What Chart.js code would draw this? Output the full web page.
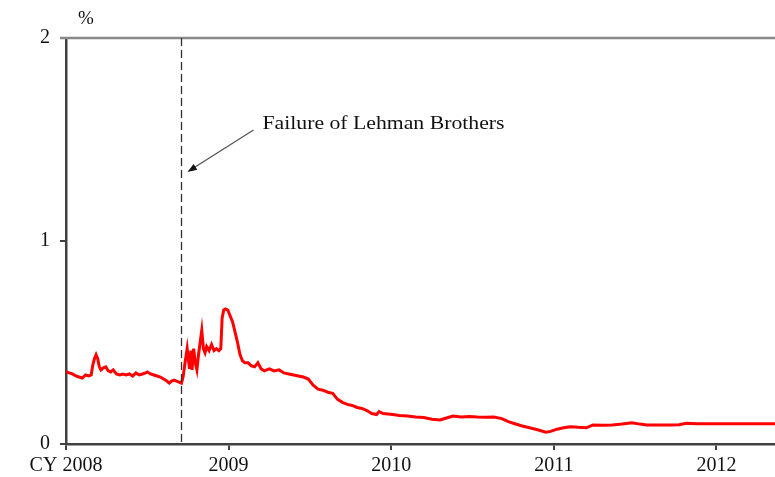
<!DOCTYPE html>
<html>
<head>
<meta charset="utf-8">
<script src="https://cdn.jsdelivr.net/npm/chart.js@4/dist/chart.umd.min.js"></script>
<style>
  html, body { margin: 0; padding: 0; background: #fff; }
  #wrap { width: 775px; height: 477px; }
</style>
</head>
<body>
<div id="wrap"><canvas id="myChart"></canvas></div>
<script>
// decimal years and interest rate (%)
var dates = [
  2008.00, 2008.02, 2008.04, 2008.06, 2008.08, 2008.10, 2008.12, 2008.14, 2008.155, 2008.165,
  2008.175, 2008.185, 2008.195, 2008.205, 2008.215, 2008.23, 2008.245, 2008.26, 2008.275, 2008.29,
  2008.31, 2008.33, 2008.35, 2008.37, 2008.39, 2008.41, 2008.43, 2008.45, 2008.47, 2008.49,
  2008.50, 2008.52, 2008.54, 2008.56, 2008.58, 2008.60, 2008.62, 2008.635, 2008.65, 2008.665,
  2008.68, 2008.695, 2008.71, 2008.72, 2008.732, 2008.745, 2008.752, 2008.76, 2008.768, 2008.775,
  2008.785, 2008.795, 2008.805, 2008.815, 2008.825, 2008.835, 2008.845, 2008.855, 2008.865, 2008.88,
  2008.895, 2008.91, 2008.925, 2008.94, 2008.952, 2008.96, 2008.97, 2008.98, 2008.995, 2009.01,
  2009.025, 2009.04, 2009.055, 2009.07, 2009.085, 2009.10, 2009.12, 2009.14, 2009.16, 2009.18,
  2009.20, 2009.22, 2009.25, 2009.28, 2009.31, 2009.34, 2009.37, 2009.40, 2009.43, 2009.46,
  2009.49, 2009.52, 2009.55, 2009.58, 2009.61, 2009.64, 2009.67, 2009.70, 2009.73, 2009.76,
  2009.79, 2009.82, 2009.85, 2009.88, 2009.91, 2009.925, 2009.95, 2009.98, 2010.01, 2010.05,
  2010.10, 2010.15, 2010.20, 2010.25, 2010.30, 2010.34, 2010.38, 2010.43, 2010.48, 2010.53,
  2010.58, 2010.63, 2010.68, 2010.72, 2010.76, 2010.80, 2010.85, 2010.90, 2010.95, 2010.98,
  2011.02, 2011.06, 2011.10, 2011.15, 2011.20, 2011.24, 2011.30, 2011.36, 2011.42, 2011.48,
  2011.53, 2011.57, 2011.65, 2011.72, 2011.77, 2011.815, 2011.88, 2011.95, 2012.05, 2012.15,
  2012.25, 2012.36
];
var rates = [
  0.356, 0.35, 0.345, 0.335, 0.33, 0.325, 0.34, 0.335, 0.34, 0.39,
  0.42, 0.44, 0.42, 0.38, 0.365, 0.375, 0.38, 0.36, 0.355, 0.365,
  0.345, 0.34, 0.345, 0.34, 0.345, 0.335, 0.35, 0.34, 0.345, 0.35,
  0.355, 0.345, 0.34, 0.335, 0.33, 0.32, 0.31, 0.30, 0.31, 0.315,
  0.31, 0.305, 0.30, 0.33, 0.40, 0.47, 0.42, 0.37, 0.46, 0.365,
  0.47, 0.40, 0.365, 0.44, 0.50, 0.56, 0.47, 0.45, 0.48, 0.46,
  0.49, 0.46, 0.47, 0.46, 0.47, 0.62, 0.66, 0.665, 0.66, 0.63,
  0.60, 0.55, 0.50, 0.44, 0.41, 0.40, 0.40, 0.385, 0.38, 0.40,
  0.37, 0.36, 0.37, 0.36, 0.365, 0.35, 0.345, 0.34, 0.335, 0.33,
  0.32, 0.29, 0.27, 0.265, 0.255, 0.25, 0.22, 0.205, 0.195, 0.19,
  0.18, 0.175, 0.165, 0.15, 0.145, 0.16, 0.15, 0.148, 0.145, 0.14,
  0.138, 0.133, 0.13, 0.122, 0.118, 0.128, 0.138, 0.133, 0.135, 0.133,
  0.132, 0.133, 0.125, 0.11, 0.10, 0.09, 0.08, 0.07, 0.058, 0.062,
  0.073, 0.08, 0.085, 0.082, 0.08, 0.094, 0.092, 0.094, 0.098, 0.105,
  0.098, 0.094, 0.093, 0.094, 0.095, 0.102, 0.1, 0.1, 0.1, 0.1,
  0.1, 0.1
];
var yearTicks = [2008, 2009, 2010, 2011, 2012];
var lehmanDate = 2008.71;
var lehmanLabel = 'Failure of Lehman Brothers';

var points = dates.map(function (d, i) { return { x: d, y: rates[i] }; });

var extras = {
  id: 'extras',
  afterDraw: function (chart) {
    var c = chart.ctx, a = chart.chartArea;
    var xs = chart.scales.x;
    c.save();
    // top border
    c.strokeStyle = '#888';
    c.lineWidth = 2.5;
    c.beginPath();
    c.moveTo(a.left - 6, a.top);
    c.lineTo(a.right, a.top);
    c.stroke();
    // Lehman dashed line
    var lx = Math.round(xs.getPixelForValue(lehmanDate)) + 0.5;
    c.strokeStyle = '#333';
    c.lineWidth = 1.3;
    c.setLineDash([8, 4]);
    c.beginPath();
    c.moveTo(lx, a.top);
    c.lineTo(lx, a.bottom);
    c.stroke();
    c.setLineDash([]);
    // arrow
    var x0 = lx + 72, y0 = 130, x1 = lx + 6, y1 = 172;
    c.strokeStyle = '#555';
    c.fillStyle = '#111';
    c.lineWidth = 1.3;
    c.beginPath();
    c.moveTo(x0, y0);
    c.lineTo(x1 + 6, y1 - 4);
    c.stroke();
    var ang = Math.atan2(y1 - y0, x1 - x0);
    c.beginPath();
    c.moveTo(x1, y1);
    c.lineTo(x1 - 10 * Math.cos(ang - 0.35), y1 - 10 * Math.sin(ang - 0.35));
    c.lineTo(x1 - 10 * Math.cos(ang + 0.35), y1 - 10 * Math.sin(ang + 0.35));
    c.closePath();
    c.fill();
    // label, stretched a little to match the source width
    c.fillStyle = '#111';
    c.font = '19px "Liberation Serif", serif';
    c.textBaseline = 'alphabetic';
    c.textAlign = 'left';
    var tw = c.measureText(lehmanLabel).width;
    var sx = 242 / tw;
    c.save();
    c.translate(lx + 81, 129);
    c.scale(sx, 1);
    c.fillText(lehmanLabel, 0, 0);
    c.restore();
    // unit
    c.textAlign = 'center';
    c.fillText('%', 86, 24);
    c.restore();
  }
};

var ctx = document.getElementById('myChart');
var myChart = new Chart(ctx, {
  type: 'line',
  data: {
    datasets: [{
      data: points,
      borderColor: '#ff0000',
      borderWidth: 3,
      pointRadius: 0,
      tension: 0,
      fill: false
    }]
  },
  options: {
    responsive: true,
    maintainAspectRatio: false,
    animation: false,
    layout: { padding: { top: 38, right: 0, left: 0, bottom: 0 } },
    plugins: { legend: { display: false }, tooltip: { enabled: false } },
    scales: {
      x: {
        type: 'linear',
        min: 2008,
        max: 2012.36,
        afterFit: function (s) { s.height = 33; },
        afterBuildTicks: function (s) { s.ticks = yearTicks.map(function (v) { return { value: v }; }); },
        ticks: {
          autoSkip: false,
          maxRotation: 0,
          includeBounds: false,
          padding: 4,
          color: '#111',
          font: { family: '"Liberation Serif", serif', size: 20 },
          callback: function (v) { return v === 2008 ? 'CY 2008' : String(v); }
        },
        grid: { display: true, drawOnChartArea: false, drawTicks: true, tickLength: 6, color: '#404040', lineWidth: 2 },
        border: { display: true, color: '#404040', width: 2.5 }
      },
      y: {
        min: 0,
        max: 2,
        afterFit: function (s) { s.width = 66; },
        ticks: {
          stepSize: 1,
          padding: 10,
          color: '#111',
          font: { family: '"Liberation Serif", serif', size: 20 }
        },
        grid: { display: true, drawOnChartArea: false, drawTicks: true, tickLength: 6, color: '#404040', lineWidth: 2 },
        border: { display: true, color: '#404040', width: 2.5 }
      }
    }
  },
  plugins: [extras]
});
</script>
</body>
</html>
